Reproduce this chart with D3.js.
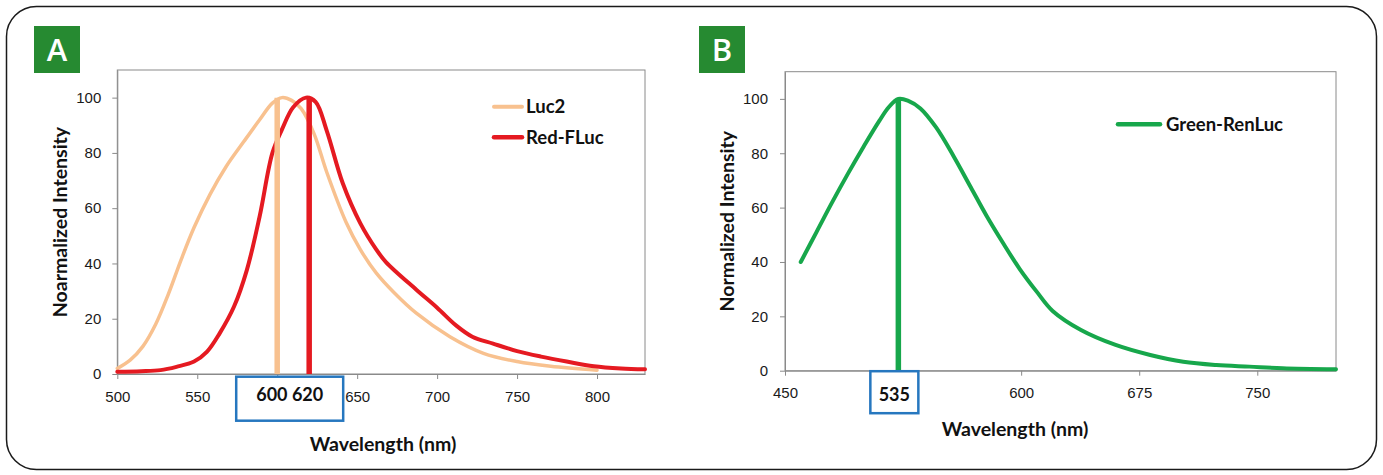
<!DOCTYPE html>
<html lang="en">
<head>
  <meta charset="UTF-8">
  <title>Luciferase emission spectra</title>
  <script src="https://d3js.org/d3.v7.min.js"></script>
  <style>
    body {
      margin: 0;
      background-color: white;
    }
    svg {
      display: block;
      font-family: Lato, "Open Sans", sans-serif;
    }
    .axis path, .axis line {
      stroke: #8a8a8a;
    }
    .axis text {
      font-size: 15px;
      fill: #1a1a1a;
    }
    .axis-title {
      font-size: 19.5px;
      font-weight: bold;
      fill: #111;
    }
    .legend-text {
      font-size: 18.5px;
      font-weight: bold;
      fill: #111;
    }
    .badge {
      font-family: "Open Sans", sans-serif;
      font-size: 31px;
      font-weight: 600;
      fill: white;
    }
    .peak-label {
      font-size: 18px;
      font-weight: bold;
      fill: #111;
    }
  </style>
</head>
<body>
  <svg id="chart" width="1383" height="475"></svg>

  <script>
    // Panel A - Luc2
    var luc2Wavelength = [500, 508, 516, 524, 532, 540, 548, 558, 568, 579, 589, 597, 603, 609, 615, 623, 631, 643, 652, 662, 673, 687, 708, 729, 750, 771, 800];
    var luc2Intensity  = [2, 5, 10, 18, 29, 41.5, 53, 65, 75, 84, 92, 98, 100, 99, 96, 87, 73, 55, 45, 36.5, 29.5, 22, 13.5, 7.5, 4.5, 2.8, 1.4];

    // Panel A - Red-FLuc
    var redWavelength = [500, 515, 527, 537, 548, 556, 564, 573, 581, 589, 597, 603, 610, 618, 624, 631, 641, 652, 662, 668, 687, 700, 712, 722, 735, 750, 765, 781, 798, 815, 830];
    var redIntensity  = [0.8, 1, 1.4, 2.6, 4.5, 8, 14.7, 24.4, 37.6, 57, 80, 88.5, 96.5, 100, 98.5, 88, 69, 54.5, 45, 40.5, 30.5, 24, 17.5, 13.5, 11, 8.3, 6.3, 4.5, 2.8, 2, 1.7];

    // Panel B - Green-RenLuc
    var greenWavelength = [460, 470, 480, 490, 500, 510, 516, 522, 528, 536, 546, 557, 568, 578, 589, 599, 610, 620, 638, 660, 682, 703, 724, 745, 766, 800];
    var greenIntensity  = [40, 51, 62, 72.5, 82.5, 92, 97, 100, 99.4, 96.5, 89.5, 79, 67.5, 57, 46.5, 37.5, 29, 22, 15, 9.5, 5.8, 3.3, 2.1, 1.5, 0.9, 0.5];

    // peak markers and their labels
    var peaksA = [600, 620];
    var peakLabelA = "600 620";
    var peaksB = [522];
    var peakLabelB = "535";

    // axes
    var yTicks = [0, 20, 40, 60, 80, 100];
    var xTicksA = [500, 550, 600, 650, 700, 750, 800];
    var xTicksB = [450, 525, 600, 675, 750];
    // tick labels hidden behind the peak label boxes
    var hiddenTicksA = [600];
    var hiddenTicksB = [525];

    var svg = d3.select("#chart");

    // outer rounded frame
    svg.append("rect")
       .attr("x", 6.5)
       .attr("y", 6.5)
       .attr("width", 1370)
       .attr("height", 463)
       .attr("rx", 30)
       .attr("fill", "none")
       .attr("stroke", "#1a1a1a")
       .attr("stroke-width", 1.5);

    function drawPanel(p) {
      var x = d3.scaleLinear().domain(p.xDomain).range(p.xRange);
      var y = d3.scaleLinear().domain([0, 110]).range(p.yRange);
      var g = svg.append("g");

      // green letter badge
      g.append("rect")
       .attr("x", p.badgeX)
       .attr("y", 26)
       .attr("width", 46)
       .attr("height", 47)
       .attr("fill", "#268a31");
      g.append("text")
       .attr("class", "badge")
       .attr("x", p.badgeX + 23)
       .attr("y", 61)
       .attr("text-anchor", "middle")
       .text(p.letter);

      // plot frame
      g.append("rect")
       .attr("x", p.xRange[0])
       .attr("y", p.yRange[1])
       .attr("width", p.xRange[1] - p.xRange[0])
       .attr("height", p.yRange[0] - p.yRange[1])
       .attr("fill", "none")
       .attr("stroke", "#8a8a8a");

      g.append("g")
       .attr("class", "axis")
       .attr("transform", "translate(0," + p.yRange[0] + ")")
       .call(d3.axisBottom(x)
               .tickValues(p.xTicks)
               .tickFormat(function(d) { return p.hiddenTicks.indexOf(d) >= 0 ? "" : d; })
               .tickSize(5).tickSizeOuter(0).tickPadding(12));

      g.append("g")
       .attr("class", "axis")
       .attr("transform", "translate(" + p.xRange[0] + ",0)")
       .call(d3.axisLeft(y).tickValues(yTicks).tickSize(5).tickSizeOuter(0).tickPadding(p.yPad));

      var line = d3.line()
                   .x(function(d) { return x(d[0]); })
                   .y(function(d) { return y(d[1]); })
                   .curve(d3.curveCatmullRom.alpha(0.5));

      p.series.forEach(function(s) {
        g.append("path")
         .datum(d3.zip(s.x, s.y))
         .attr("d", line)
         .attr("fill", "none")
         .attr("stroke", s.color)
         .attr("stroke-width", s.width)
         .attr("stroke-linejoin", "round")
         .attr("stroke-linecap", "round");
      });

      // vertical peak lines
      p.peaks.forEach(function(w, i) {
        g.append("line")
         .attr("x1", x(w))
         .attr("x2", x(w))
         .attr("y1", y(0))
         .attr("y2", y(100))
         .attr("stroke", p.peakColors[i])
         .attr("stroke-width", 5.5);
      });

      // boxed peak label, covering the tick below
      var bx0 = x(p.peaks[0]) - p.boxPadLeft;
      var bx1 = x(p.peaks[p.peaks.length - 1]) + p.boxPadRight;
      g.append("rect")
       .attr("x", bx0)
       .attr("y", p.yRange[0] + p.boxTop)
       .attr("width", bx1 - bx0)
       .attr("height", p.boxHeight)
       .attr("fill", "white")
       .attr("stroke", "#2677bf")
       .attr("stroke-width", 2.5);
      g.append("text")
       .attr("class", "peak-label")
       .attr("x", (bx0 + bx1) / 2)
       .attr("y", 401)
       .attr("text-anchor", "middle")
       .text(p.peakLabel);

      // legend
      p.series.forEach(function(s, i) {
        var ly = p.legendY + i * 30.6;
        g.append("line")
         .attr("x1", p.legendX)
         .attr("x2", p.legendX + p.legendLen)
         .attr("y1", ly)
         .attr("y2", ly)
         .attr("stroke", s.color)
         .attr("stroke-width", s.width + 0.5)
         .attr("stroke-linecap", "round");
        g.append("text")
         .attr("class", "legend-text")
         .attr("x", p.legendX + p.legendLen + p.legendGap)
         .attr("y", ly)
         .attr("dy", "0.36em")
         .text(s.name);
      });

      // axis titles
      g.append("text")
       .attr("class", "axis-title")
       .attr("x", p.xTitleX)
       .attr("y", p.xTitleY)
       .attr("text-anchor", "middle")
       .text("Wavelength (nm)");
      g.append("text")
       .attr("class", "axis-title")
       .attr("transform", "translate(" + p.yTitleX + "," + ((p.yRange[0] + p.yRange[1]) / 2) + ") rotate(-90)")
       .attr("dy", "0.36em")
       .attr("text-anchor", "middle")
       .text(p.yTitle);
    }

    drawPanel({
      letter: "A",
      badgeX: 34,
      xDomain: [500, 830],
      xRange: [117.3, 645],
      yRange: [374, 70],
      yPad: 11,
      xTicks: xTicksA,
      hiddenTicks: hiddenTicksA,
      series: [
        {name: "Luc2", x: luc2Wavelength, y: luc2Intensity, color: "#f8c18f", width: 3.5},
        {name: "Red-FLuc", x: redWavelength, y: redIntensity, color: "#e51a21", width: 4}
      ],
      peaks: peaksA,
      peakColors: ["#f8c18f", "#e51a21"],
      peakLabel: peakLabelA,
      boxPadLeft: 41,
      boxPadRight: 34,
      boxTop: 2.7,
      boxHeight: 44,
      legendX: 494,
      legendLen: 28,
      legendGap: 4,
      legendY: 106.7,
      xTitleX: 383,
      xTitleY: 451,
      yTitleX: 60,
      yTitle: "Noarmalized Intensity"
    });

    drawPanel({
      letter: "B",
      badgeX: 699,
      xDomain: [450, 800],
      xRange: [785, 1336],
      yRange: [370.7, 71.7],
      yPad: 12,
      xTicks: xTicksB,
      hiddenTicks: hiddenTicksB,
      series: [
        {name: "Green-RenLuc", x: greenWavelength, y: greenIntensity, color: "#17a74b", width: 4}
      ],
      peaks: peaksB,
      peakColors: ["#17a74b"],
      peakLabel: peakLabelB,
      boxPadLeft: 28,
      boxPadRight: 20,
      boxTop: 0.5,
      boxHeight: 42,
      legendX: 1118,
      legendLen: 42,
      legendGap: 6,
      legendY: 124.3,
      xTitleX: 1015,
      xTitleY: 436,
      yTitleX: 727,
      yTitle: "Normalized Intensity"
    });
  </script>
</body>
</html>
